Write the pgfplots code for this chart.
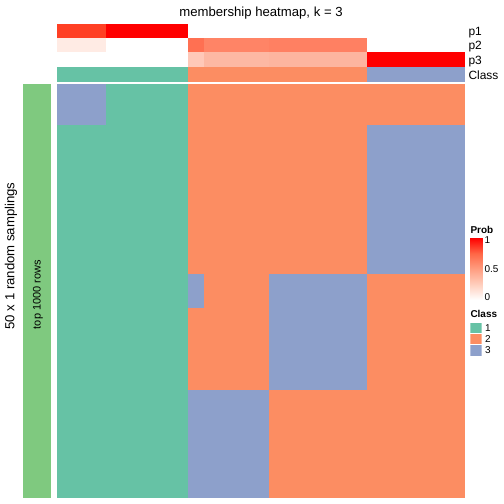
\documentclass[border=0pt]{standalone}
\usepackage{fontspec}
\setmainfont{Liberation Sans}
\usepackage{pgfplots}
\pgfplotsset{compat=1.18}
\definecolor{cA}{RGB}{102,194,165}
\definecolor{cB}{RGB}{252,141,98}
\definecolor{cC}{RGB}{141,160,203}
\definecolor{side}{RGB}{127,201,127}
\definecolor{pa}{RGB}{255,64,36}
\definecolor{pb}{RGB}{255,235,228}
\definecolor{pc}{RGB}{255,112,82}
\definecolor{pd}{RGB}{255,132,102}
\definecolor{pe}{RGB}{255,128,98}
\definecolor{pf}{RGB}{255,200,184}
\definecolor{pg}{RGB}{253,184,163}
\definecolor{ph}{RGB}{253,181,159}
\pgfplotsset{
  blk/.style={draw=none},
  colormap={prob}{rgb255(0)=(255,255,255) rgb255(0.25)=(255,207,190) rgb255(0.5)=(255,158,129) rgb255(0.75)=(255,103,70) rgb255(1)=(255,0,0)},
}
\begin{document}
\begin{tikzpicture}
\useasboundingbox (0,0) rectangle (504bp,504bp);
% ---------- main membership matrix (25 columns x 50 samplings) ----------
\begin{axis}[at={(57bp,420bp)}, anchor=north west, scale only axis,
  width=408bp, height=414bp, xmin=0, xmax=25, ymin=0, ymax=50, y dir=reverse, hide axis]
\addplot[blk, fill=cB] coordinates {(8,0) (25,0) (25,50) (8,50)} -- cycle;
\addplot[blk, fill=cA] coordinates {(3,0) (8,0) (8,50) (3,50)} -- cycle;
\addplot[blk, fill=cA] coordinates {(0,5) (3,5) (3,50) (0,50)} -- cycle;
\addplot[blk, fill=cC] coordinates {(0,0) (3,0) (3,5) (0,5)} -- cycle;
\addplot[blk, fill=cC] coordinates {(8,23) (9,23) (9,27) (8,27)} -- cycle;
\addplot[blk, fill=cC] coordinates {(8,37) (13,37) (13,50) (8,50)} -- cycle;
\addplot[blk, fill=cC] coordinates {(13,23) (19,23) (19,37) (13,37)} -- cycle;
\addplot[blk, fill=cC] coordinates {(19,5) (25,5) (25,23) (19,23)} -- cycle;
\end{axis}
% ---------- top annotations ----------
\begin{axis}[at={(57bp,480bp)}, anchor=north west, scale only axis,
  width=408bp, height=57.7bp, xmin=0, xmax=25, ymin=0, ymax=4.05, y dir=reverse,
  axis line style={draw=none}, xtick=\empty,
  ytick={0.5,1.5,2.5,3.55}, yticklabels={p1,p2,p3,Class},
  yticklabel pos=right, major tick length=0pt, tick style={draw=none},
  yticklabel style={font=\fontsize{12}{14}\selectfont, anchor=base west, inner sep=0pt, xshift=3.3bp, yshift=-4.6bp},
  title={membership heatmap, k = 3},
  title style={font=\fontsize{13.2}{15}\selectfont, at={(0.5,1)}, anchor=base, yshift=1.7bp, inner sep=0pt}]
% p1
\addplot[blk, fill=pa] coordinates {(0,0) (3,0) (3,1) (0,1)} -- cycle;
\addplot[blk, fill=red] coordinates {(3,0) (8,0) (8,1) (3,1)} -- cycle;
\addplot[blk, fill=white] coordinates {(8,0) (25,0) (25,1) (8,1)} -- cycle;
% p2
\addplot[blk, fill=pb] coordinates {(0,1) (3,1) (3,2) (0,2)} -- cycle;
\addplot[blk, fill=white] coordinates {(3,1) (8,1) (8,2) (3,2)} -- cycle;
\addplot[blk, fill=pc] coordinates {(8,1) (9,1) (9,2) (8,2)} -- cycle;
\addplot[blk, fill=pd] coordinates {(9,1) (13,1) (13,2) (9,2)} -- cycle;
\addplot[blk, fill=pe] coordinates {(13,1) (19,1) (19,2) (13,2)} -- cycle;
\addplot[blk, fill=white] coordinates {(19,1) (25,1) (25,2) (19,2)} -- cycle;
% p3
\addplot[blk, fill=white] coordinates {(0,2) (8,2) (8,3) (0,3)} -- cycle;
\addplot[blk, fill=pf] coordinates {(8,2) (9,2) (9,3) (8,3)} -- cycle;
\addplot[blk, fill=pg] coordinates {(9,2) (13,2) (13,3) (9,3)} -- cycle;
\addplot[blk, fill=ph] coordinates {(13,2) (19,2) (19,3) (13,3)} -- cycle;
\addplot[blk, fill=red] coordinates {(19,2) (25,2) (25,3) (19,3)} -- cycle;
% Class
\addplot[blk, fill=cA] coordinates {(0,3.05) (8,3.05) (8,4.05) (0,4.05)} -- cycle;
\addplot[blk, fill=cB] coordinates {(8,3.05) (19,3.05) (19,4.05) (8,4.05)} -- cycle;
\addplot[blk, fill=cC] coordinates {(19,3.05) (25,3.05) (25,4.05) (19,4.05)} -- cycle;
\end{axis}
% ---------- side bar ----------
\begin{axis}[at={(22.7bp,420bp)}, anchor=north west, scale only axis,
  width=28.3bp, height=414bp, xmin=0, xmax=1, ymin=0, ymax=1, hide axis]
\addplot[blk, fill=side] coordinates {(0,0) (1,0) (1,1) (0,1)} -- cycle;
\end{axis}
\node[rotate=90, font=\fontsize{11}{13}\selectfont, inner sep=0pt] at (38bp,209.3bp) {top 1000 rows};
\node[rotate=90, font=\fontsize{13.2}{15}\selectfont, inner sep=0pt] at (11bp,248bp) {50 x 1 random samplings};
% ---------- Prob legend ----------
\begin{axis}[at={(470.3bp,204.3bp)}, anchor=south west, scale only axis,
  width=12.4bp, height=61.4bp, xmin=0, xmax=1, ymin=-0.04, ymax=1.04,
  axis line style={draw=none}, xtick=\empty,
  ytick={0,0.5,1}, yticklabels={0,0.5,1},
  ytick pos=both, yticklabel pos=right, tick align=inside, major tick length=2.3bp,
  ytick style={draw=white, line width=0.6bp},
  yticklabel style={font=\fontsize{10}{12}\selectfont, anchor=west, inner sep=0pt, xshift=1.6bp},
  /pgf/number format/assume math mode=true,
  colormap name=prob, point meta min=0, point meta max=1,
  title={\textbf{Prob}},
  title style={font=\fontsize{10}{12}\selectfont, at={(0,1)}, anchor=base west, inner sep=0pt, yshift=-1.2bp}]
\addplot[surf, shader=interp, point meta=y, mesh/cols=2] coordinates {(0,-0.04) (1,-0.04) (0,1.04) (1,1.04)};
\end{axis}
% ---------- Class legend ----------
\begin{axis}[at={(470.3bp,181.7bp)}, anchor=north west, scale only axis,
  width=11.4bp, height=33.6bp, xmin=0, xmax=1, ymin=0, ymax=3, y dir=reverse,
  axis line style={draw=none}, xtick=\empty,
  ytick={0.5,1.5,2.5}, yticklabels={1,2,3},
  yticklabel pos=right, major tick length=0pt, tick style={draw=none},
  yticklabel style={font=\fontsize{10}{12}\selectfont, anchor=west, inner sep=0pt, xshift=3.3bp},
  /pgf/number format/assume math mode=true,
  title={\textbf{Class}},
  title style={font=\fontsize{10}{12}\selectfont, at={(0,1)}, anchor=base west, inner sep=0pt, yshift=-1bp}]
\addplot[blk, fill=cA] coordinates {(0,0.03) (1,0.03) (1,0.97) (0,0.97)} -- cycle;
\addplot[blk, fill=cB] coordinates {(0,1.03) (1,1.03) (1,1.97) (0,1.97)} -- cycle;
\addplot[blk, fill=cC] coordinates {(0,2.03) (1,2.03) (1,2.97) (0,2.97)} -- cycle;
\end{axis}
\end{tikzpicture}
\end{document}
